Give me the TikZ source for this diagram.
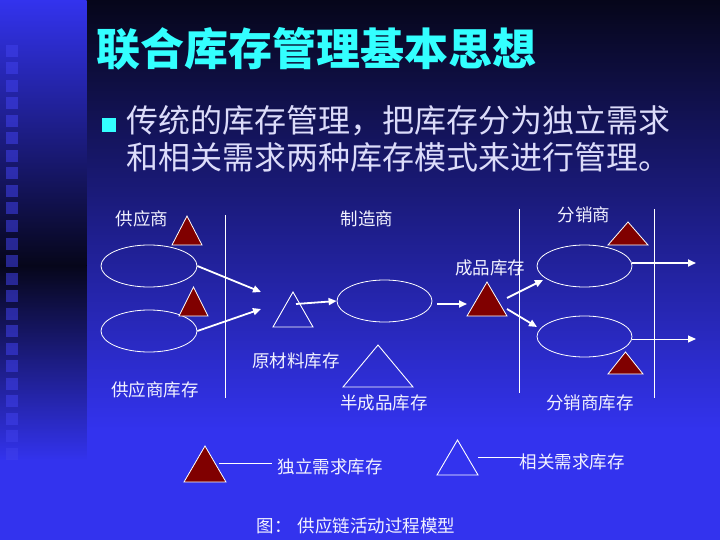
\documentclass[tikz,border=0pt]{standalone}
\usepackage{fontspec}
\setmainfont{Noto Sans CJK SC}
\newfontfamily\cjk{Noto Sans CJK SC}
\usetikzlibrary{shapes.geometric,arrows.meta}
\definecolor{bgblue}{RGB}{51,51,238}
\definecolor{bgdark}{RGB}{6,6,26}
\definecolor{titlecyan}{RGB}{51,255,255}
\definecolor{bodytext}{RGB}{220,220,250}
\definecolor{invred}{RGB}{128,0,0}
\definecolor{sqblue}{RGB}{64,64,235}
\definecolor{lbltext}{RGB}{242,242,255}
\begin{document}
\begin{tikzpicture}[x=1pt,y=-1pt,
  redtri/.style={fill=invred, draw=white, line width=0.8pt, line join=miter},
  opentri/.style={draw=white, line width=0.9pt},
  ell/.style={ellipse, draw=white, line width=0.8pt, inner sep=0pt},
  arr/.style={draw=white, line width=1.8pt, -{Triangle[length=8pt,width=7pt]}},
  thinarr/.style={draw=white, line width=1pt, -{Triangle[length=8pt,width=7pt]}},
  lbl/.style={font=\cjk\fontsize{17.5}{20}\selectfont, text=lbltext, inner sep=0pt},
  body/.style={font=\cjk\fontsize{32}{36}\selectfont, text=bodytext, inner sep=0pt, anchor=west},
  vline/.style={draw=white, line width=0.9pt},
  legline/.style={draw=white, line width=0.8pt}]
\useasboundingbox (0,0) rectangle (720,540);
% background
\fill[top color=bgdark, bottom color=bgblue] (86,0) rectangle (720,431);
\fill[bgblue] (86,430) rectangle (720,540);
\fill[top color=bgblue, bottom color=bgdark] (0,0) rectangle (86.5,266);
\fill[top color=bgdark, bottom color=bgblue] (0,265) rectangle (86.5,461);
\fill[bgblue] (0,460) rectangle (86.5,540);
\foreach \i in {0,...,23}
  \fill[sqblue, opacity=0.55] (6,45+17.5*\i) rectangle ++(12,12);
% title and bullet text
\node[anchor=west, font=\cjk\bfseries\fontsize{44}{50}\selectfont, text=titlecyan, inner sep=0pt] (title) at (96,49) {联合库存管理基本思想};
\node[fill=titlecyan, minimum size=14pt, inner sep=0pt] (bul) at (108.5,125) {};
\node[body] (l1) at (126,121) {传统的库存管理，把库存分为独立需求};
\node[body] (l2) at (126,157.5) {和相关需求两种库存模式来进行管理。};
% labels
\node[lbl] (sup) at (142,219) {供应商};
\node[lbl] (man) at (367,219) {制造商};
\node[lbl] (dis) at (584,215) {分销商};
\node[lbl] (fin) at (490,268) {成品库存};
\node[lbl] (raw) at (296,361) {原材料库存};
\node[lbl] (supinv) at (155,390) {供应商库存};
\node[lbl] (semi) at (384,403) {半成品库存};
\node[lbl] (disinv) at (590,403) {分销商库存};
\node[lbl] (indep) at (330,467) {独立需求库存};
\node[lbl] (dep) at (572,462) {相关需求库存};
\node[lbl] (cap) at (356,526) {图：\hspace{6pt}供应链活动过程模型};
% vertical separators
\coordinate (v1a) at (225,215); \coordinate (v1b) at (225,398);
\coordinate (v2a) at (519,209); \coordinate (v2b) at (519,393);
\coordinate (v3a) at (654,209); \coordinate (v3b) at (654,398);
\draw[vline] (v1a) -- (v1b);
\draw[vline] (v2a) -- (v2b);
\draw[vline] (v3a) -- (v3b);
% ellipses
\node[ell, minimum width=96pt, minimum height=42pt] (e1) at (149,266) {};
\node[ell, minimum width=96pt, minimum height=42pt] (e2) at (149,331) {};
\node[ell, minimum width=95pt, minimum height=42pt] (e3) at (384.5,301) {};
\node[ell, minimum width=95pt, minimum height=42pt] (e4) at (584.5,266) {};
\node[ell, minimum width=95pt, minimum height=41pt] (e5) at (584.5,336.5) {};
% triangles
\coordinate (ts1) at (187,216);
\draw[redtri] (ts1) -- ++(15,29) -- ++(-30,0) -- cycle;
\coordinate (ts2) at (193.5,287);
\draw[redtri] (ts2) -- ++(14.5,29) -- ++(-29,0) -- cycle;
\coordinate (traw) at (293,292);
\draw[opentri] (traw) -- ++(20,35) -- ++(-40,0) -- cycle;
\coordinate (tsemi) at (378,345);
\draw[opentri] (tsemi) -- ++(35,42) -- ++(-70,0) -- cycle;
\coordinate (tfin) at (487,282);
\draw[redtri] (tfin) -- ++(20,34) -- ++(-40,0) -- cycle;
\coordinate (td1) at (628,222);
\draw[redtri] (td1) -- ++(20,23) -- ++(-40,0) -- cycle;
\coordinate (td2) at (625.5,352);
\draw[redtri] (td2) -- ++(17.5,22) -- ++(-35,0) -- cycle;
\coordinate (tlr) at (205,446);
\draw[redtri] (tlr) -- ++(21,36) -- ++(-42,0) -- cycle;
\coordinate (tlo) at (457.5,440);
\draw[opentri] (tlo) -- ++(20.5,35) -- ++(-41,0) -- cycle;
% arrows
\coordinate (a1e) at (261,292);
\coordinate (a2e) at (261,309);
\coordinate (a3s) at (296,304);
\coordinate (a4s) at (437,304);
\coordinate (a4e) at (467,304);
\coordinate (a5s) at (507,298);
\coordinate (a5e) at (543,280);
\coordinate (a6s) at (507,309);
\coordinate (a6e) at (537,327);
\coordinate (a7e) at (696,263);
\coordinate (a8e) at (696,339);
\draw[arr] (e1.east) -- (a1e);
\draw[arr] (e2.east) -- (a2e);
\draw[arr] (a3s) -- (e3.west);
\draw[arr] (a4s) -- (a4e);
\draw[arr] (a5s) -- (a5e);
\draw[arr] (a6s) -- (a6e);
\draw[arr] (e4.east |- a7e) -- (a7e);
\draw[thinarr] (e5.east |- a8e) -- (a8e);
% legend lines
\coordinate (lg1) at (219,463);
\coordinate (lg1e) at (272,463);
\coordinate (lg2) at (478,457);
\coordinate (lg2e) at (520,457);
\draw[legline] (lg1) -- (lg1e);
\draw[legline] (lg2) -- (lg2e);
\end{tikzpicture}
\end{document}
